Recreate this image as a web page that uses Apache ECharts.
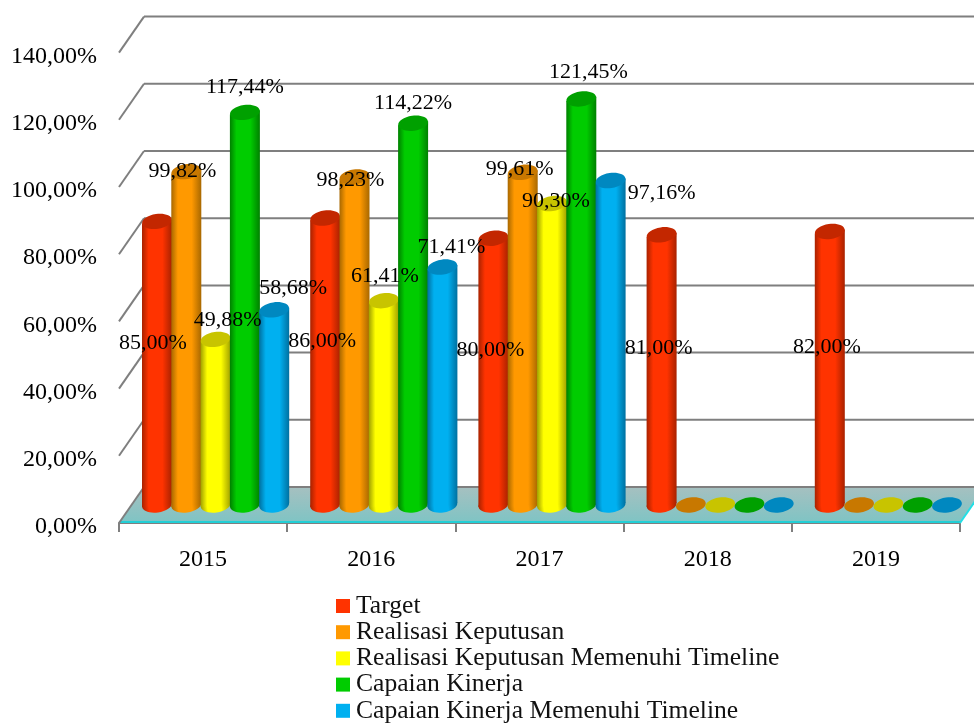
<!DOCTYPE html>
<html><head><meta charset="utf-8">
<style>html,body{margin:0;padding:0;background:#fff}#c{width:974px;height:724px}</style>
<script src="https://cdn.jsdelivr.net/npm/echarts@6/dist/echarts.min.js"></script>
</head><body><div id="c"></div>
<script>
const categories = ['2015','2016','2017','2018','2019'];
const seriesNames = ['Target','Realisasi Keputusan','Realisasi Keputusan Memenuhi Timeline','Capaian Kinerja','Capaian Kinerja Memenuhi Timeline'];
const target = [85.00,86.00,80.00,81.00,82.00];
const realisasi = [99.82,98.23,99.61,0,0];
const realisasiTimeline = [49.88,61.41,90.30,0,0];
const capaian = [117.44,114.22,121.45,0,0];
const capaianTimeline = [58.68,71.41,97.16,0,0];
const yTicks = [0,20,40,60,80,100,120,140];

// styles and layout, separate from the data
const seriesValues = [target,realisasi,realisasiTimeline,capaian,capaianTimeline];
const baseColors = ['#ff3300','#ff9900','#ffff00','#00cc00','#00b0f0'];
const capColors  = ['#c32700','#c87800','#c8c400','#00a000','#0088c0'];
const edgeColors = ['#a82200','#a86800','#a0a000','#008000','#0070a0'];
const labelShift = [
  [[-4,124],[-3,125],[-3,114],[-3,115],[-3,118]],
  [[-4,2],[-4,5],[-3,-1],null,null],
  [[12,-17],[1,-22],[4,0],null,null],
  [[0,-23],[0,-18],[7,-25],null,null],
  [[19,-20],[9,-18],[51,15],null,null]
];
const DEPTH_X = 25, DEPTH_Y = -36, MID_X = 12.5, MID_Y = -18, TOP_NUDGE = 2, SLOT = 29.3, RX = 15, RY = 7.5, TILT = 0.14;
const LEAN = RX * Math.sin(TILT);
const FONT = '"Liberation Serif", serif';
const fmt = v => v.toFixed(2).replace('.', ',') + '%';

function ell(cx, cy, fill, z2) {
  return {type:'ellipse', z2, originX:cx, originY:cy, rotation:TILT,
    shape:{cx, cy, rx:RX, ry:RY}, style:{fill}};
}
function cylinderRenderer(si) {
  return function (params, api) {
    const p = api.coord([api.value(0), api.value(1)]);
    const p0 = api.coord([api.value(0), 0]);
    const cx = p[0] + MID_X + (si - 2) * SLOT;
    const top = p[1] + MID_Y + (api.value(1) > 0 ? TOP_NUDGE : 0), bottom = p0[1] + MID_Y;
    const kids = [];
    if (api.value(1) > 0) {
      const grad = {type:'linear', x:0, y:0, x2:1, y2:0, colorStops:[
        {offset:0, color:edgeColors[si]},{offset:0.22, color:baseColors[si]},
        {offset:0.68, color:baseColors[si]},{offset:1, color:edgeColors[si]}]};
      kids.push(ell(cx, bottom, grad, 1));
      kids.push({type:'polygon', z2:2, shape:{points:[[cx-RX,top+LEAN],[cx+RX,top-LEAN],[cx+RX,bottom-LEAN],[cx-RX,bottom+LEAN]]}, style:{fill:grad}});
    }
    kids.push(ell(cx, top, capColors[si], 3));
    return {type:'group', children:kids};
  };
}

const option = {
  animation:false,
  backgroundColor:'#fff',
  grid:{left:119, right:14, top:52.6, bottom:201, containLabel:false},
  xAxis:{type:'category', data:categories, boundaryGap:true,
    axisLine:{show:true, lineStyle:{color:'#7f7f7f', width:2}},
    axisTick:{show:true, alignWithLabel:false, length:9, lineStyle:{color:'#7f7f7f', width:2}},
    axisLabel:{fontFamily:FONT, fontSize:24, color:'#000', margin:25}},
  yAxis:{type:'value', min:0, max:140, interval:20,
    axisLine:{show:false}, axisTick:{show:false}, splitLine:{show:false},
    axisLabel:{fontFamily:FONT, fontSize:24, color:'#000', margin:22, verticalAlign:'top', lineHeight:8, formatter:v=>v.toFixed(2).replace('.',',')+'%'}},
  legend:{orient:'vertical', left:331, top:588, height:200, itemWidth:14, itemHeight:14, itemGap:0.2, icon:'rect',
    data:seriesNames, selectedMode:false,
    textStyle:{fontFamily:FONT, fontSize:25.6, color:'#111', padding:[0,0,0,1]}},
  series:[
    {type:'custom', name:'walls', silent:true, z:1, data:yTicks.map(t=>[0,t]),
     renderItem(params, api){
       const cs = params.coordSys, y = api.coord([0, api.value(1)])[1];
       const x0 = cs.x, x1 = cs.x + cs.width;
       const ls = {stroke:'#7f7f7f', lineWidth:2, fill:null};
       const kids = [];
       if (api.value(1) === 0) {
         kids.push({type:'polygon', shape:{points:[[x0,y],[x1,y],[x1+DEPTH_X,y+DEPTH_Y],[x0+DEPTH_X,y+DEPTH_Y]]},
           style:{fill:{type:'linear',x:0,y:0,x2:0,y2:1,colorStops:[{offset:0,color:'#a6c0c0'},{offset:1,color:'#7ec4c4'}]}}});
         kids.push({type:'line', shape:{x1:x0,y1:y-1,x2:x1,y2:y-1}, style:{stroke:'#22cfd6', lineWidth:2}});
         kids.push({type:'line', shape:{x1:x1,y1:y,x2:x1+DEPTH_X,y2:y+DEPTH_Y}, style:{stroke:'#22dfe6', lineWidth:2}});
       }
       kids.push({type:'line', shape:{x1:x0,y1:y,x2:x0+DEPTH_X,y2:y+DEPTH_Y}, style:ls});
       kids.push({type:'line', shape:{x1:x0+DEPTH_X,y1:y+DEPTH_Y,x2:x1+DEPTH_X,y2:y+DEPTH_Y}, style:ls});
       return {type:'group', children:kids};
     }},
    ...seriesNames.map((name,si)=>({
      type:'custom', name, z:2+si, itemStyle:{color:baseColors[si]},
      data:seriesValues[si].map((v,i)=>[i,v]),
      renderItem:cylinderRenderer(si)
    })),
    ...seriesNames.map((name,si)=>({
      type:'custom', name:name+' label', silent:true, z:10,
      data:seriesValues[si].map((v,i)=>[i,v]),
      renderItem(params, api){
        const i = api.value(0), v = api.value(1);
        const sh = labelShift[si][i];
        if (!sh) return {type:'group', children:[]};
        const p = api.coord([i,v]);
        return {type:'text', style:{
          x:p[0]+MID_X+(si-2)*SLOT+sh[0], y:p[1]+MID_Y+sh[1], text:fmt(v),
          align:'center', verticalAlign:'middle', fontFamily:FONT, fontSize:22, fill:'#000'}};
      }
    }))
  ]
};
echarts.init(document.getElementById('c')).setOption(option);
</script></body></html>
